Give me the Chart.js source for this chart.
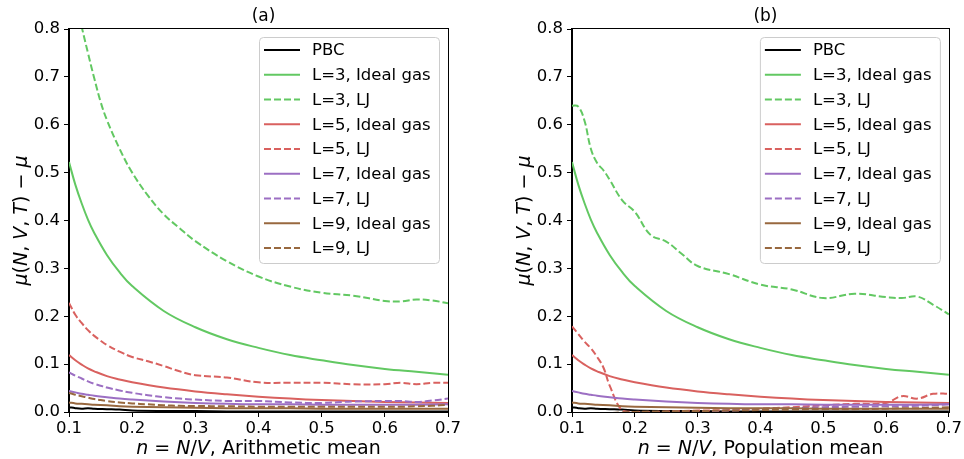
<!DOCTYPE html>
<html>
<head>
<meta charset="utf-8">
<script src="https://cdn.jsdelivr.net/npm/chart.js@4.4.1/dist/chart.umd.min.js"></script>
<style>
  html, body { margin: 0; padding: 0; background: #fff; }
  #wrap { position: relative; width: 964px; height: 459px; overflow: hidden; }
  .panel { position: absolute; top: 0; width: 482px; height: 459px; }
</style>
</head>
<body>
<div id="wrap">
  <div class="panel" style="left:0"><canvas id="chartA" width="482" height="459"></canvas></div>
  <div class="panel" style="left:482px"><canvas id="chartB" width="482" height="459"></canvas></div>
</div>
<script>
// density grid for the ideal gas / PBC curves (same in both panels)
const nIdeal = [0.1, 0.11, 0.12, 0.13, 0.14, 0.16, 0.18, 0.2, 0.25, 0.3, 0.35, 0.4, 0.45, 0.5, 0.55, 0.6, 0.65, 0.7];
const pbc     = [0.010, 0.008, 0.007, 0.008, 0.007, 0.006, 0.005, 0.003, 0.002, 0.002, 0.001, 0.001, 0.001, 0.001, 0.001, 0.001, 0.001, 0.001];
const idealL3 = [0.522, 0.475, 0.436, 0.402, 0.374, 0.328, 0.292, 0.263, 0.211, 0.177, 0.152, 0.134, 0.119, 0.108, 0.098, 0.090, 0.084, 0.078];
const idealL5 = [0.119, 0.108, 0.099, 0.091, 0.085, 0.075, 0.068, 0.062, 0.051, 0.043, 0.037, 0.032, 0.028, 0.025, 0.023, 0.021, 0.020, 0.019];
const idealL7 = [0.044, 0.041, 0.038, 0.036, 0.034, 0.031, 0.028, 0.026, 0.022, 0.019, 0.017, 0.016, 0.016, 0.015, 0.015, 0.015, 0.015, 0.016];
const idealL9 = [0.020, 0.018, 0.017, 0.016, 0.015, 0.014, 0.012, 0.011, 0.010, 0.009, 0.008, 0.008, 0.008, 0.007, 0.007, 0.007, 0.007, 0.007];

// density grid for the LJ curves
const nLJ = [0.1, 0.11, 0.12, 0.13, 0.14, 0.15, 0.16, 0.18, 0.2, 0.225, 0.25, 0.275, 0.3, 0.35, 0.4, 0.45, 0.5, 0.55, 0.6, 0.625, 0.65, 0.675, 0.7];

// (a) arithmetic mean
const arithL3 = [0.930, 0.862, 0.805, 0.750, 0.697, 0.648, 0.610, 0.550, 0.500, 0.452, 0.413, 0.384, 0.357, 0.315, 0.283, 0.262, 0.249, 0.243, 0.232, 0.231, 0.235, 0.233, 0.227];
const arithL5 = [0.228, 0.203, 0.186, 0.171, 0.159, 0.149, 0.140, 0.126, 0.115, 0.106, 0.096, 0.085, 0.077, 0.072, 0.062, 0.061, 0.061, 0.058, 0.058, 0.061, 0.058, 0.061, 0.061];
const arithL7 = [0.083, 0.076, 0.070, 0.064, 0.059, 0.055, 0.051, 0.045, 0.040, 0.035, 0.031, 0.028, 0.026, 0.023, 0.023, 0.020, 0.019, 0.022, 0.023, 0.023, 0.021, 0.024, 0.028];
const arithL9 = [0.040, 0.036, 0.033, 0.030, 0.027, 0.025, 0.023, 0.020, 0.018, 0.016, 0.014, 0.013, 0.0125, 0.012, 0.011, 0.011, 0.011, 0.011, 0.011, 0.011, 0.012, 0.013, 0.015];

// (b) population mean
const popL3 = [0.640, 0.638, 0.608, 0.550, 0.520, 0.505, 0.485, 0.442, 0.418, 0.370, 0.356, 0.330, 0.305, 0.288, 0.266, 0.256, 0.238, 0.247, 0.240, 0.238, 0.241, 0.224, 0.204];
const popL5 = [0.179, 0.163, 0.147, 0.133, 0.115, 0.093, 0.055, 0.003, 0.000, 0.000, 0.001, 0.002, 0.003, 0.004, 0.007, 0.010, 0.014, 0.017, 0.019, 0.033, 0.028, 0.038, 0.038];
const popL7 = [-0.006, -0.005, -0.005, -0.004, -0.004, -0.003, -0.003, -0.002, -0.001, 0.000, 0.000, 0.001, 0.001, 0.003, 0.006, 0.008, 0.010, 0.011, 0.012, 0.012, 0.013, 0.014, 0.016];
const popL9 = [-0.004, -0.004, -0.003, -0.003, -0.003, -0.002, -0.002, -0.001, 0.000, 0.001, 0.001, 0.002, 0.002, 0.003, 0.004, 0.005, 0.006, 0.006, 0.007, 0.008, 0.008, 0.009, 0.010];

const xTicks = [0.1, 0.2, 0.3, 0.4, 0.5, 0.6, 0.7];
const yTicks = [0.0, 0.1, 0.2, 0.3, 0.4, 0.5, 0.6, 0.7, 0.8];

const GREEN = '#62c862';
const RED = '#d9615f';
const PURPLE = '#9c6fc3';
const BROWN = '#98683f';
const DASH = [7, 3];
const FONT = '"DejaVu Sans", sans-serif';

Chart.defaults.font.family = FONT;
Chart.defaults.color = '#000';

function pts(xs, ys) {
    return xs.map((x, i) => ({ x: x, y: ys[i] }));
}

function buildDatasets(lj) {
    const list = [
        { label: 'PBC', data: pts(nIdeal, pbc), borderColor: '#000000' },
        { label: 'L=3, Ideal gas', data: pts(nIdeal, idealL3), borderColor: GREEN },
        { label: 'L=3, LJ', data: pts(nLJ, lj[0]), borderColor: GREEN, borderDash: DASH },
        { label: 'L=5, Ideal gas', data: pts(nIdeal, idealL5), borderColor: RED },
        { label: 'L=5, LJ', data: pts(nLJ, lj[1]), borderColor: RED, borderDash: DASH },
        { label: 'L=7, Ideal gas', data: pts(nIdeal, idealL7), borderColor: PURPLE },
        { label: 'L=7, LJ', data: pts(nLJ, lj[2]), borderColor: PURPLE, borderDash: DASH },
        { label: 'L=9, Ideal gas', data: pts(nIdeal, idealL9), borderColor: BROWN },
        { label: 'L=9, LJ', data: pts(nLJ, lj[3]), borderColor: BROWN, borderDash: DASH }
    ];
    // later curves sit on top, like the plotting order
    return list.map((d, i) => Object.assign({
        borderWidth: 2,
        pointRadius: 0,
        fill: false,
        tension: 0.4,
        order: list.length - i
    }, d));
}

// draw a run of text pieces, some in italic, centred on (cx, cy)
function drawMixed(ctx, parts, size, cx, cy) {
    const fontOf = p => (p.it ? 'italic ' : '') + size + 'px ' + FONT;
    let total = 0;
    parts.forEach(p => { ctx.font = fontOf(p); total += ctx.measureText(p.t).width; });
    let x = cx - total / 2;
    ctx.textAlign = 'left';
    ctx.textBaseline = 'middle';
    parts.forEach(p => {
        ctx.font = fontOf(p);
        ctx.fillText(p.t, x, cy);
        x += ctx.measureText(p.t).width;
    });
}

const yLabelParts = [
    { t: 'μ', it: true }, { t: '(' }, { t: 'N', it: true }, { t: ', ' }, { t: 'V', it: true },
    { t: ', ' }, { t: 'T', it: true }, { t: ')' }, { t: ' − ' }, { t: 'μ', it: true }
];

const decorations = {
    id: 'decorations',
    afterDraw(chart, args, opts) {
        const ctx = chart.ctx;
        const a = chart.chartArea;
        ctx.save();

        // full frame around the axes
        ctx.strokeStyle = '#000';
        ctx.lineWidth = 1;
        ctx.strokeRect(Math.round(a.left) - 0.5, Math.round(a.top) - 0.5,
            Math.round(a.right - a.left) + 1, Math.round(a.bottom - a.top) + 1);

        ctx.fillStyle = '#000';
        // panel title
        ctx.font = '17px ' + FONT;
        ctx.textAlign = 'center';
        ctx.textBaseline = 'middle';
        ctx.fillText(opts.title, (a.left + a.right) / 2 + 5, 17);

        // x axis label
        drawMixed(ctx, [
            { t: 'n', it: true }, { t: ' = ' }, { t: 'N', it: true }, { t: '/' },
            { t: 'V', it: true }, { t: ', ' + opts.xName }
        ], 19, (a.left + a.right) / 2, 449);

        // y axis label, rotated
        ctx.save();
        ctx.translate(a.left - 47, (a.top + a.bottom) / 2);
        ctx.rotate(-Math.PI / 2);
        drawMixed(ctx, yLabelParts, 19, 0, 0);
        ctx.restore();

        // legend box
        const bw = 180, bh = 226;
        const bx = a.right - 9 - bw, by = a.top + 8;
        ctx.beginPath();
        ctx.roundRect(bx + 0.5, by + 0.5, bw, bh, 4);
        ctx.fillStyle = 'rgba(255,255,255,0.8)';
        ctx.fill();
        ctx.strokeStyle = '#cccccc';
        ctx.stroke();

        ctx.font = '16.5px ' + FONT;
        ctx.textAlign = 'left';
        ctx.textBaseline = 'middle';
        chart.data.datasets.forEach((ds, i) => {
            const yy = by + 13 + i * 24.75;
            ctx.beginPath();
            ctx.setLineDash(ds.borderDash || []);
            ctx.strokeStyle = ds.borderColor;
            ctx.lineWidth = 2;
            ctx.moveTo(bx + 5, yy);
            ctx.lineTo(bx + 41, yy);
            ctx.stroke();
            ctx.setLineDash([]);
            ctx.fillStyle = '#000';
            ctx.fillText(ds.label, bx + 53, yy + 1);
        });
        ctx.restore();
    }
};

function makeChart(id, lj, title, xName, leftEdge, rightPad) {
    return new Chart(document.getElementById(id), {
        type: 'line',
        data: { datasets: buildDatasets(lj) },
        plugins: [decorations],
        options: {
            responsive: false,
            animation: false,
            devicePixelRatio: 1,
            layout: { padding: { top: 29, right: rightPad, left: 0, bottom: 0 } },
            plugins: {
                legend: { display: false },
                tooltip: { enabled: false },
                decorations: { title: title, xName: xName }
            },
            scales: {
                x: {
                    type: 'linear',
                    min: 0.1,
                    max: 0.7,
                    afterBuildTicks: s => { s.ticks = xTicks.map(v => ({ value: v })); },
                    afterFit: s => { s.height = 47; },
                    ticks: {
                        autoSkip: false,
                        maxRotation: 0,
                        padding: 2,
                        font: { size: 16.5 },
                        callback: v => v.toFixed(1)
                    },
                    grid: { drawOnChartArea: false, tickLength: 5, color: '#000' },
                    border: { color: '#000' }
                },
                y: {
                    type: 'linear',
                    min: 0,
                    max: 0.8,
                    afterBuildTicks: s => { s.ticks = yTicks.map(v => ({ value: v })); },
                    afterFit: s => { s.width = leftEdge; },
                    ticks: {
                        autoSkip: false,
                        padding: 4,
                        font: { size: 16.5 },
                        callback: v => v.toFixed(1)
                    },
                    grid: { drawOnChartArea: false, tickLength: 5, color: '#000' },
                    border: { color: '#000' }
                }
            }
        }
    });
}

makeChart('chartA', [arithL3, arithL5, arithL7, arithL9], '(a)', 'Arithmetic mean', 69, 34);
makeChart('chartB', [popL3, popL5, popL7, popL9], '(b)', 'Population mean', 90, 12);
</script>
</body>
</html>
